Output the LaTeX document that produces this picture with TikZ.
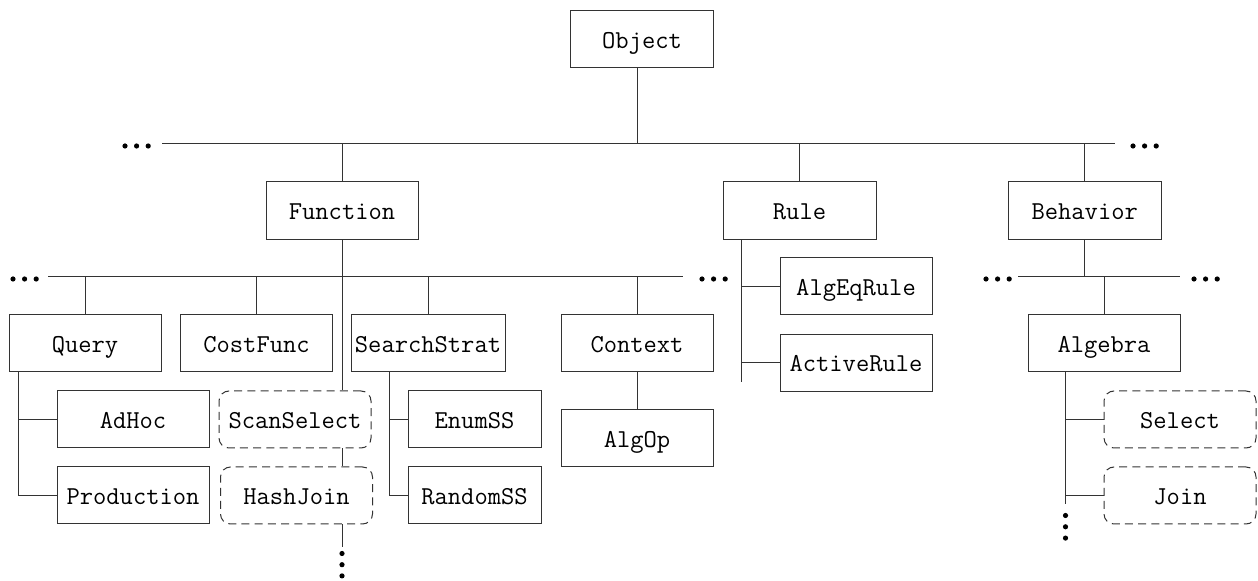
\documentclass[tikz,border=0pt]{standalone}
\usepackage{fontspec}
\usetikzlibrary{positioning,calc}
\tikzset{
  cls/.style={rectangle,draw=black!80,line width=0.5pt,minimum width=76pt,
              minimum height=28.5pt,inner sep=0pt,text height=2.35ex,text depth=0.3ex,
              font=\ttfamily\fontsize{12.9}{14}\selectfont},
  top/.style={cls,minimum height=28.8pt},
  impl/.style={cls,rounded corners=5pt,dash pattern=on 4pt off 2.6pt},
  link/.style={draw=black!80,line width=0.5pt},
}

\begin{document}
\begin{tikzpicture}[x=0.5pt,y=-0.5pt]
  \useasboundingbox (0,0) rectangle (1258,581);
  \node[top,minimum width=71.5pt] (obj) at (642,39.2) {Object};
  \node[top] (func) at (342,210.5) {Function};
  \node[top,minimum width=76.5pt] (rule) at (799.5,210.5) {Rule};
  \node[top,minimum width=76.5pt] (behav) at (1084.7,210.5) {Behavior};
  \node[cls] (query) at (85,343.5) {Query};
  \node[cls] (cost) at (256.5,343.5) {CostFunc};
  \node[cls,minimum width=77pt] (search) at (428,343.5) {SearchStrat};
  \node[cls] (ctx) at (637,343.5) {Context};
  \node[cls] (algop) at (637,438.3) {AlgOp};
  \node[cls] (algeq) at (856,286.5) {AlgEqRule};
  \node[cls] (active) at (856,363) {ActiveRule};
  \node[cls] (adhoc) at (133,419.5) {AdHoc};
  \node[cls] (prod) at (133,495.5) {Production};
  \node[impl] (scan) at (295,419.5) {ScanSelect};
  \node[impl] (hash) at (296.5,495.5) {HashJoin};
  \node[cls,minimum width=66.5pt] (enum) at (474.5,419.5) {EnumSS};
  \node[cls,minimum width=66.5pt] (rand) at (474.5,495.5) {RandomSS};
  \node[cls] (algebra) at (1104,343.5) {Algebra};
  \node[impl] (sel) at (1180,419.5) {Select};
  \node[impl] (join) at (1180,495.5) {Join};

  \coordinate (busA) at (162,143.3);
  \coordinate (busB) at (1115,143.3);
  \draw[link] (busA) -- (busB);
  \draw[link] ([xshift=-2.5pt]obj.south) -- ([xshift=-2.5pt]obj.south |- busA);
  \foreach \n in {func,rule,behav}
    \draw[link] (\n.north) -- (\n.north |- busA);

  \coordinate (busC) at (48,277);
  \coordinate (busD) at (683,277);
  \draw[link] (busC) -- (busD);
  \foreach \n in {query,cost,search,ctx}
    \draw[link] (\n.north) -- (\n.north |- busC);
  \draw[link] (func.south) -- (func.south |- scan.north);
  \draw[link] (scan.south -| func.south) -- (hash.north -| func.south);
  \coordinate (hashEnd) at ($(hash.south -| func.south)+(0,23)$);
  \draw[link] (hash.south -| func.south) -- (hashEnd);
  \draw[link] (ctx) -- (algop);

  \coordinate (qtrunk) at ([xshift=5pt]query.south west);
  \draw[link] (qtrunk) |- (prod.west);
  \draw[link] (qtrunk |- adhoc.west) -- (adhoc.west);
  \coordinate (strunk) at ([xshift=19.5pt]search.south west);
  \draw[link] (strunk) |- (rand.west);
  \draw[link] (strunk |- enum.west) -- (enum.west);

  \coordinate (rtrunk) at ([xshift=9.5pt]rule.south west);
  \coordinate (rEnd) at ($(rtrunk |- active.west)+(0,19)$);
  \draw[link] (rtrunk) -- (rEnd);
  \draw[link] (rtrunk |- algeq.west) -- (algeq.west);
  \draw[link] (rtrunk |- active.west) -- (active.west);

  \coordinate (busE) at (1018,277);
  \coordinate (busF) at (1180,277);
  \draw[link] (busE) -- (busF);
  \draw[link] (behav.south) -- (behav.south |- busE);
  \draw[link] (algebra.north) -- (algebra.north |- busE);
  \coordinate (atrunk) at ([xshift=19pt]algebra.south west);
  \coordinate (aEnd) at ($(atrunk |- join.west)+(0,9)$);
  \draw[link] (atrunk) -- (aEnd);
  \draw[link] (atrunk |- sel.west) -- (sel.west);
  \draw[link] (atrunk |- join.west) -- (join.west);

  \foreach \x/\y in {125/146,1133/146,13/279,702/279,986/279,1194/279}
    \foreach \k in {0,1,2}
      \fill (\x+\k*11.6,\y) circle (1.3pt);
  \foreach \k in {0,1,2} {
    \fill ($(hashEnd)+(0,6+\k*11.2)$) circle (1.3pt);
    \fill ($(aEnd)+(0,11+\k*11.3)$) circle (1.3pt);
  }
\end{tikzpicture}
\end{document}
